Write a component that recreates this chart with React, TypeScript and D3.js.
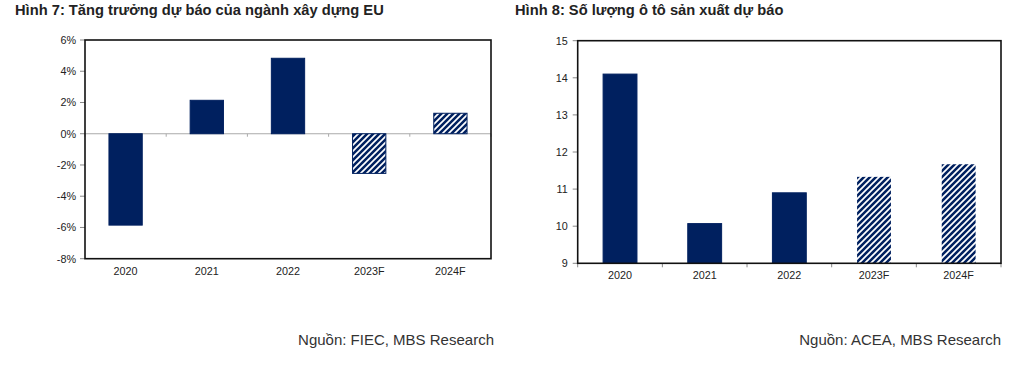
import React from "react";
import * as d3 from "d3";

const categories = ["2020", "2021", "2022", "2023F", "2024F"];
const forecast = [false, false, false, true, true];
const growthValues = [-5.85, 2.14, 4.83, -2.54, 1.31];
const growthTicks = [6, 4, 2, 0, -2, -4, -6, -8];
const carValues = [14.1, 10.07, 10.9, 11.33, 11.67];
const carTicks = [15, 14, 13, 12, 11, 10, 9];

const NAVY = "#00205f";
const FONT = "'Liberation Sans', Arial, sans-serif";

function Chart1() {
  const x = d3.scaleBand<string>().domain(categories).range([85, 491]).paddingInner(0.59).paddingOuter(0.295);
  const y = d3.scaleLinear().domain([-8, 6]).range([258.7, 40]);
  const band = (491 - 85) / categories.length;
  return (
    <g>
      <text x={15} y={15} fontFamily={FONT} fontWeight="bold" fontSize={14.7} fill="#222">
        Hình 7: Tăng trưởng dự báo của ngành xây dựng EU
      </text>
      {growthTicks.map((t) => (
        <g key={t}>
          <line x1={80} x2={85} y1={y(t)} y2={y(t)} stroke="#888" />
          <text x={76} y={y(t) + 4} textAnchor="end" fontFamily={FONT} fontSize={10.8} fill="#222">
            {t}%
          </text>
        </g>
      ))}
      <line x1={85} x2={491} y1={y(0)} y2={y(0)} stroke="#aaa" strokeWidth={1.2} />
      {d3.range(categories.length + 1).map((i) => (
        <line key={i} x1={85 + i * band} x2={85 + i * band} y1={y(0)} y2={y(0) + 3} stroke="#aaa" />
      ))}
      {categories.map((c, i) => {
        const v = growthValues[i];
        const y0 = Math.min(y(0), y(v));
        const h = Math.abs(y(v) - y(0));
        return (
          <rect key={c} x={x(c)!} y={y0} width={x.bandwidth()} height={h}
            fill={forecast[i] ? "url(#hatch)" : NAVY} stroke={NAVY} strokeWidth={1} />
        );
      })}
      <rect x={85} y={40} width={406} height={218.7} fill="none" stroke="#111" strokeWidth={1.6} />
      {categories.map((c) => (
        <text key={c} x={x(c)! + x.bandwidth() / 2} y={275} textAnchor="middle" fontFamily={FONT} fontSize={10.8} fill="#222">
          {c}
        </text>
      ))}
      <text x={494} y={345} textAnchor="end" fontFamily={FONT} fontSize={15} fill="#333">
        Nguồn: FIEC, MBS Research
      </text>
    </g>
  );
}

function Chart2() {
  const L = 577.7, R = 1001, T = 40.7, B = 263.3;
  const x = d3.scaleBand<string>().domain(categories).range([L, R]).paddingInner(0.6).paddingOuter(0.3);
  const y = d3.scaleLinear().domain([9, 15]).range([B, T]);
  const band = (R - L) / categories.length;
  return (
    <g>
      <text x={515} y={15} fontFamily={FONT} fontWeight="bold" fontSize={14.7} fill="#222">
        Hình 8: Số lượng ô tô sản xuất dự báo
      </text>
      {carTicks.map((t) => (
        <g key={t}>
          <line x1={L - 5} x2={L} y1={y(t)} y2={y(t)} stroke="#888" />
          <text x={L - 10} y={y(t) + 4} textAnchor="end" fontFamily={FONT} fontSize={10.8} fill="#222">
            {t}
          </text>
        </g>
      ))}
      {d3.range(categories.length + 1).map((i) => (
        <line key={i} x1={L + i * band} x2={L + i * band} y1={B} y2={B + 4} stroke="#888" />
      ))}
      {categories.map((c, i) => (
        <rect key={c} x={x(c)!} y={y(carValues[i])} width={x.bandwidth()} height={B - y(carValues[i])}
          fill={forecast[i] ? "url(#hatch)" : NAVY} stroke={forecast[i] ? "none" : NAVY} strokeWidth={1} />
      ))}
      <rect x={L} y={T} width={R - L} height={B - T} fill="none" stroke="#111" strokeWidth={1.6} />
      {categories.map((c) => (
        <text key={c} x={x(c)! + x.bandwidth() / 2} y={279} textAnchor="middle" fontFamily={FONT} fontSize={10.8} fill="#222">
          {c}
        </text>
      ))}
      <text x={1001} y={345} textAnchor="end" fontFamily={FONT} fontSize={15} fill="#333">
        Nguồn: ACEA, MBS Research
      </text>
    </g>
  );
}

export default function App() {
  return (
    <svg width={1011} height={365} style={{ position: "absolute", left: 0, top: 0, background: "#fff" }}>
      <defs>
        <pattern id="hatch" patternUnits="userSpaceOnUse" width={6} height={6}>
          <rect width={6} height={6} fill={NAVY} />
          <path d="M-1.5,1.5 L1.5,-1.5 M0,6 L6,0 M4.5,7.5 L7.5,4.5" stroke="#fff" strokeWidth={1.7} />
        </pattern>
      </defs>
      <rect width={1011} height={365} fill="#fff" />
      <Chart1 />
      <Chart2 />
    </svg>
  );
}
